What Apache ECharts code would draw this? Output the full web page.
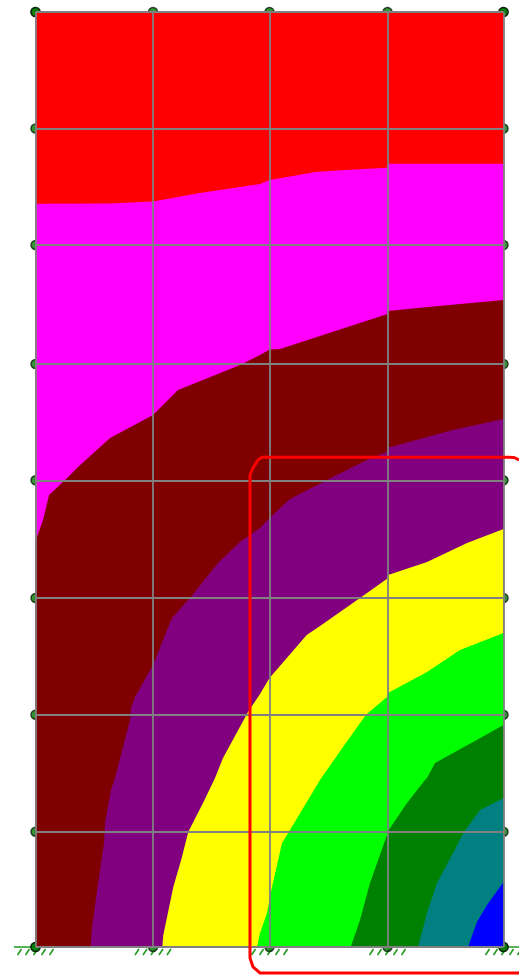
<!DOCTYPE html>
<html>
<head>
<meta charset="utf-8">
<title>Contour</title>
<script src="https://cdn.jsdelivr.net/npm/echarts@6/dist/echarts.min.js"></script>
<style>
html, body { margin: 0; padding: 0; background: #fff; }
#chart { width: 519px; height: 979px; }
</style>
</head>
<body>
<div id="chart"></div>
<script>
// mesh lines
var gridX = [0, 117.5, 234, 352, 468];
var gridY = [0, 115.3, 232.3, 349, 466.7, 583, 702, 818.5, 935];

// upper edge of each contour band, left to right
var redEdge = [[0, 935], [468, 935]];
var magentaEdge = [[0, 743.3], [74.5, 743.5], [117.5, 745.5], [164.5, 754], [224.5, 763], [234, 767], [257.5, 771], [279.5, 775], [309.5, 777], [351.5, 779.3], [352.5, 783.3], [468, 783.3]];
var maroonEdge = [[0, 406], [7.5, 427], [13.5, 452], [29.5, 467], [42.5, 480], [74.5, 509], [117.5, 532], [142.5, 557], [204.5, 582], [224.5, 592], [234, 597.5], [244.5, 598], [351.2, 632.7], [352.5, 636], [379.5, 638.7], [424.5, 643], [468, 647]];
var purpleEdge = [[55.2, 0], [56.2, 17], [61.2, 54], [68.5, 104], [69.5, 124], [75.5, 157], [79.5, 169], [94.5, 227], [95.5, 239], [99.5, 250], [117.5, 282], [136.5, 329], [154.5, 349], [182.5, 384], [204.5, 405], [224.5, 419], [234, 429], [254.5, 448], [291.5, 467], [331.5, 487], [351.2, 495], [352.5, 499.3], [417.5, 517], [468, 528]];
var yellowEdge = [[126.8, 0], [127.8, 12], [137.8, 60], [146.2, 89], [152.8, 115.3], [167.5, 144], [179.5, 169], [187.5, 189], [212.5, 235], [224.5, 253], [234, 269], [271.2, 312], [284.5, 321], [324.5, 349], [351.2, 368], [352.5, 372], [391.5, 385], [431.5, 404], [468, 418]];
var limeEdge = [[221.5, 0], [224.5, 14], [231.5, 34], [236.5, 60], [246.5, 104], [253.5, 115.3], [266.5, 137], [284.5, 167], [307.5, 200], [330.5, 232.3], [351.5, 250], [352.5, 254], [391.5, 275], [424.5, 297], [468, 314]];
var greenEdge = [[315.2, 0], [324.5, 27], [334.5, 64], [352.2, 114], [352.5, 116], [371.5, 144], [389.5, 167], [391.5, 169], [399.5, 184], [437.5, 205], [468, 222]];
var tealEdge = [[382.5, 0], [391.5, 34], [401.5, 64], [417.5, 94], [428.5, 115], [444.5, 137], [468, 149]];
var blueEdge = [[432.5, 0], [441.5, 25], [451.5, 42], [468, 65]];

var bandEdges = [redEdge, magentaEdge, maroonEdge, purpleEdge, yellowEdge, limeEdge, greenEdge, tealEdge, blueEdge];
var bandColors = ["#ff0000", "#ff00ff", "#800000", "#800080", "#ffff00", "#00ff00", "#008000", "#008080", "#0000ff"];

// hand drawn red outline, runs off the right side of the page
var outlineTop = [[483.5, 487], [478.5, 489.5], [471.5, 489.7], [226.5, 489.7], [222.5, 487], [217.5, 479], [214.5, 472], [214.5, -11], [217.5, -20], [224.5, -26], [484.5, -26]];

// supports along the base
var groundLeft = [[-21.5, 0], [0, 0]];
var groundRight = [[468, 0], [484.5, 0]];
var hatchOffsets = [-18, -10, -2, 6, 14];

// nodes around the outside of the mesh
var nodes = [];
gridX.forEach(function (x) {
  nodes.push([x, 0]);
  nodes.push([x, 935]);
});
gridY.forEach(function (y) {
  nodes.push([0, y]);
  nodes.push([468, y]);
});

function lineStyle(color, width) {
  return { stroke: color, lineWidth: width, fill: null };
}

function renderBand(params, api) {
  var edge = bandEdges[params.dataIndex];
  var points = edge.map(function (p) { return api.coord(p); });
  points.push(api.coord([468, 0]));
  if (edge[0][0] === 0) {
    points.push(api.coord([0, 0]));
  }
  return {
    type: "polygon",
    shape: { points: points },
    style: { fill: bandColors[params.dataIndex] }
  };
}

function renderHatch(params, api) {
  var base = api.coord([gridX[params.dataIndex], 0]);
  var children = hatchOffsets.map(function (o) {
    return {
      type: "line",
      shape: { x1: base[0] + o, y1: base[1] + 8, x2: base[0] + o + 4, y2: base[1] + 2 },
      style: { stroke: "#1f9a1f", lineWidth: 1.6 }
    };
  });
  return { type: "group", children: children };
}

function renderPath(path, color, width) {
  return function (params, api) {
    return {
      type: "polyline",
      shape: { points: path.map(function (p) { return api.coord(p); }) },
      style: lineStyle(color, width)
    };
  };
}

var chart = echarts.init(document.getElementById("chart"), null, { renderer: "canvas" });
chart.setOption({
  animation: false,
  grid: { left: 35.5, right: 15.5, top: 12, bottom: 32 },
  xAxis: {
    type: "value",
    min: 0,
    max: 468,
    z: 4,
    axisLine: { show: false },
    axisLabel: { show: false },
    axisTick: { show: false, customValues: gridX },
    splitLine: { show: true, lineStyle: { color: "#808080", width: 1.8 } }
  },
  yAxis: {
    type: "value",
    min: 0,
    max: 935,
    z: 4,
    axisLine: { show: false },
    axisLabel: { show: false },
    axisTick: { show: false, customValues: gridY },
    splitLine: { show: true, lineStyle: { color: "#808080", width: 1.8 } }
  },
  series: [
    {
      type: "scatter",
      z: 1,
      silent: true,
      symbolSize: 9,
      itemStyle: { color: "#007a00", borderColor: "#0a200a", borderWidth: 1.5 },
      data: nodes
    },
    {
      type: "custom",
      z: 1,
      silent: true,
      renderItem: renderHatch,
      data: gridX
    },
    {
      type: "custom",
      z: 1,
      silent: true,
      renderItem: renderPath(groundLeft, "#1f9a1f", 1.5),
      data: [0]
    },
    {
      type: "custom",
      z: 1,
      silent: true,
      renderItem: renderPath(groundRight, "#1f9a1f", 1.5),
      data: [0]
    },
    {
      type: "custom",
      z: 2,
      silent: true,
      renderItem: renderBand,
      data: bandEdges.map(function (e, i) { return i; })
    },
    {
      type: "custom",
      z: 6,
      silent: true,
      renderItem: renderPath(outlineTop, "#ff0000", 3),
      data: [0]
    }
  ]
});
</script>
</body>
</html>
